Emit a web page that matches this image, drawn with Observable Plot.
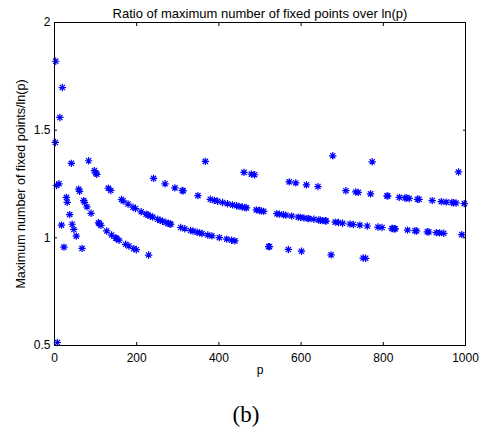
<!DOCTYPE html>
<html>
<head>
<meta charset="utf-8">
<script src="https://cdn.jsdelivr.net/npm/d3@7"></script>
<script src="https://cdn.jsdelivr.net/npm/@observablehq/plot@0.6"></script>
<style>
  html, body { margin: 0; padding: 0; background: #fff; }
  svg { display: block; }
</style>
</head>
<body>
<div id="chart"></div>
<script>
const title = "Ratio of maximum number of fixed points over ln(p)";
const xLabel = "p";
const yLabel = "Maximum number of fixed points/ln(p)";
const caption = "(b)";
const xTicks = [0, 200, 400, 600, 800, 1000];
const yTicks = [0.5, 1, 1.5, 2];

const primes = [2,3,5,7,11,13,17,19,23,29,31,37,41,43,47,53,59,61,67,71,73,79,83,89,97,
101,103,107,109,113,127,131,137,139,149,151,157,163,167,173,179,181,191,193,197,199,
211,223,227,229,233,239,241,251,257,263,269,271,277,281,283,293,
307,311,313,317,331,337,347,349,353,359,367,373,379,383,389,397,
401,409,419,421,431,433,439,443,449,457,461,463,467,479,487,491,499,
503,509,521,523,541,547,557,563,569,571,577,587,593,599,
601,607,613,617,619,631,641,643,647,653,659,661,673,677,683,691,
701,709,719,727,733,739,743,751,757,761,769,773,787,797,
809,811,821,823,827,829,839,853,857,859,863,877,881,883,887,
907,911,919,929,937,941,947,953,967,971,977,983,991,997];

const ratio = [1.443,1.820,1.243,0.514,1.251,1.559,1.059,1.698,0.957,1.188,1.165,1.108,1.346,1.063,1.039,1.008,1.226,1.216,0.951,1.173,1.165,1.144,1.358,1.114,1.312,
1.300,1.295,1.070,1.066,1.058,1.032,1.231,1.220,1.013,0.999,0.997,0.989,1.178,1.172,0.970,1.157,0.962,1.142,0.950,1.136,0.945,
1.121,1.110,1.106,0.920,1.101,1.096,1.276,1.086,1.081,1.077,1.251,1.071,1.067,1.064,1.063,1.232,
1.048,1.220,1.218,1.042,1.034,1.031,1.026,1.196,1.023,1.020,1.355,1.013,1.179,1.009,1.174,1.170,
1.001,1.164,0.994,1.158,0.989,1.153,0.986,1.149,1.146,1.143,1.304,1.141,1.139,1.296,1.293,1.130,1.127,
1.125,1.123,0.959,0.959,1.112,1.110,1.107,1.105,0.946,1.260,1.101,1.255,1.096,1.095,
0.938,1.092,1.246,1.090,1.089,1.086,1.238,1.083,1.082,1.080,1.079,1.078,0.921,1.381,1.073,1.071,
1.068,1.219,1.064,1.062,1.213,1.211,1.059,0.906,0.905,1.055,1.204,1.353,1.050,1.048,
1.195,1.194,1.043,1.043,1.042,1.042,1.188,1.185,1.185,1.036,1.183,1.033,1.032,1.179,1.179,
1.028,1.027,1.173,1.024,1.023,1.168,1.021,1.166,1.164,1.163,1.162,1.306,1.015,1.159];

const data = primes.map((p, i) => ({p, r: ratio[i]}));

// MATLAB-style '*' marker: plus + cross
const asterisk = {
  draw(ctx, size) {
    const r = Math.sqrt(size / Math.PI);
    const d = r * Math.SQRT1_2;
    ctx.moveTo(-r, 0); ctx.lineTo(r, 0);
    ctx.moveTo(0, -r); ctx.lineTo(0, r);
    ctx.moveTo(-d, -d); ctx.lineTo(d, d);
    ctx.moveTo(-d, d); ctx.lineTo(d, -d);
  }
};

const chart = Plot.plot({
  width: 490,
  height: 432,
  marginLeft: 54,
  marginRight: 25,
  marginTop: 22,
  marginBottom: 87,
  style: {fontFamily: "'Liberation Sans', Arial, Helvetica, sans-serif", fontSize: "12px", color: "black", background: "white"},
  x: {domain: [0, 1000]},
  y: {domain: [0.5, 2]},
  marks: [
    Plot.dot(data, {x: "p", y: "r", symbol: asterisk, r: 3.7, fill: "none", stroke: "#0000ff", strokeWidth: 1.2}),
    Plot.axisX(xTicks, {anchor: "bottom", tickSize: -3, tickPadding: 11, label: null, fontSize: 12, tickFormat: d => String(d)}),
    Plot.axisX(xTicks, {anchor: "top", tickSize: -3, tickFormat: () => "", label: null}),
    Plot.axisY(yTicks, {anchor: "left", tickSize: -3, tickPadding: 7, label: null, fontSize: 12, tickFormat: d => String(d)}),
    Plot.axisY(yTicks, {anchor: "right", tickSize: -3, tickFormat: () => "", label: null}),
    Plot.frame({stroke: "black", strokeWidth: 1}),
    Plot.text([title], {text: d => d, frameAnchor: "top", dy: -14, fontSize: 13}),
    Plot.text([xLabel], {text: d => d, frameAnchor: "bottom", dy: 28, fontSize: 12}),
    Plot.text([yLabel], {text: d => d, frameAnchor: "left", textAnchor: "middle", dx: -34, rotate: -90, fontSize: 12.5}),
    Plot.text([caption], {text: d => d, frameAnchor: "bottom", dy: 76, dx: -14, fontSize: 23, fontFamily: "'Liberation Serif', 'DejaVu Serif', serif"})
  ]
});
document.getElementById("chart").appendChild(chart);
</script>
</body>
</html>
